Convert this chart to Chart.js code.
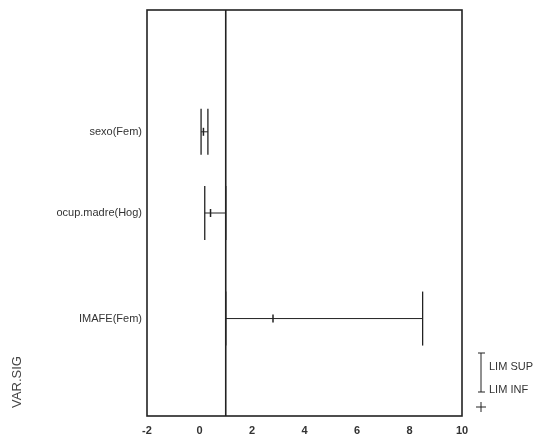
<!DOCTYPE html>
<html>
<head>
<meta charset="utf-8">
<script src="https://cdn.jsdelivr.net/npm/chart.js@4"></script>
<style>
  html, body { margin: 0; padding: 0; background: #fff; }
  #wrap { width: 551px; height: 438px; }
</style>
</head>
<body>
<div id="wrap"><canvas id="chart"></canvas></div>
<script>
// data
const categories = ["sexo(Fem)", "ocup.madre(Hog)", "IMAFE(Fem)"];
const rowPos = [3, 5, 7.6];
const limInf = [0.06, 0.2, 1.0];
const limSup = [0.32, 1.0, 8.5];
const estimate = [0.15, 0.42, 2.8];
const capSize = [23, 27, 27];
const xTicks = [-2, 0, 2, 4, 6, 8, 10];
const refValue = 1;

const ink = "#222";
const textColor = "#333";
const fontFam = "'Liberation Sans', Arial, sans-serif";

// one line dataset per variable: horizontal bar with vertical caps at the limits
const barSets = categories.map((c, i) => ({
  label: c,
  data: [{ x: limInf[i], y: rowPos[i] }, { x: limSup[i], y: rowPos[i] }],
  borderColor: ink,
  borderWidth: 1,
  pointStyle: "line",
  rotation: 90,
  pointRadius: capSize[i],
  pointBorderColor: ink,
  pointBorderWidth: 1.3,
  showLine: true
}));

const markSet = {
  label: "estimate",
  data: categories.map((c, i) => ({ x: estimate[i], y: rowPos[i] })),
  pointStyle: "line",
  rotation: 90,
  pointRadius: 4,
  pointBorderColor: ink,
  pointBorderWidth: 1.5,
  showLine: false
};

const refSet = {
  label: "ref",
  data: [{ x: refValue, y: 0 }, { x: refValue, y: 10 }],
  borderColor: ink,
  borderWidth: 1.6,
  pointRadius: 0,
  showLine: true
};

// box round the plot area, axis title and the little legend on the right
const extras = {
  id: "extras",
  afterDraw(chart) {
    const ctx = chart.ctx;
    const a = chart.chartArea;
    ctx.save();
    ctx.strokeStyle = ink;
    ctx.lineWidth = 1.6;
    ctx.strokeRect(a.left, a.top, a.right - a.left, a.bottom - a.top);

    // y title
    ctx.save();
    ctx.translate(17, 382);
    ctx.rotate(-Math.PI / 2);
    ctx.fillStyle = "#444";
    ctx.font = "13px " + fontFam;
    ctx.textAlign = "center";
    ctx.textBaseline = "middle";
    ctx.fillText("VAR.SIG", 0, 0);
    ctx.restore();

    // legend
    ctx.lineWidth = 1;
    const lx = 481;
    ctx.beginPath();
    ctx.moveTo(lx, 353); ctx.lineTo(lx, 392);
    ctx.moveTo(lx - 3, 353); ctx.lineTo(lx + 4, 353);
    ctx.moveTo(lx - 3, 392); ctx.lineTo(lx + 4, 392);
    ctx.moveTo(lx, 402); ctx.lineTo(lx, 412);
    ctx.moveTo(lx - 5, 407); ctx.lineTo(lx + 5, 407);
    ctx.stroke();
    ctx.fillStyle = textColor;
    ctx.font = "11px " + fontFam;
    ctx.textBaseline = "middle";
    ctx.fillText("LIM SUP", 489, 367);
    ctx.fillText("LIM INF", 489, 390);
    ctx.restore();
  }
};

new Chart(document.getElementById("chart"), {
  type: "scatter",
  data: { datasets: [refSet, ...barSets, markSet] },
  options: {
    responsive: true,
    maintainAspectRatio: false,
    animation: false,
    layout: { autoPadding: false, padding: { top: 10, right: 89, left: 0, bottom: 0 } },
    plugins: {
      legend: { display: false },
      tooltip: { enabled: false }
    },
    scales: {
      x: {
        type: "linear",
        min: -2,
        max: 10,
        afterBuildTicks: (s) => { s.ticks = xTicks.map(v => ({ value: v })); },
        grid: { display: false, drawTicks: true, tickLength: 3, tickColor: ink },
        border: { display: false },
        ticks: {
          color: textColor,
          padding: 5,
          maxRotation: 0,
          font: { family: fontFam, size: 11, weight: "bold" }
        },
        afterFit: (s) => { s.height = 22; s.paddingLeft = 0; s.paddingRight = 0; }
      },
      y: {
        type: "linear",
        reverse: true,
        min: 0,
        max: 10,
        afterBuildTicks: (s) => { s.ticks = rowPos.map(v => ({ value: v })); },
        grid: { display: false, drawTicks: true, tickLength: 3, tickColor: ink },
        border: { display: false },
        ticks: {
          color: textColor,
          padding: 2,
          font: { family: fontFam, size: 11 },
          callback: (v) => categories[rowPos.indexOf(v)] || ""
        },
        afterFit: (s) => { s.width = 147; s.paddingTop = 0; s.paddingBottom = 0; }
      }
    }
  },
  plugins: [extras]
});
</script>
</body>
</html>
